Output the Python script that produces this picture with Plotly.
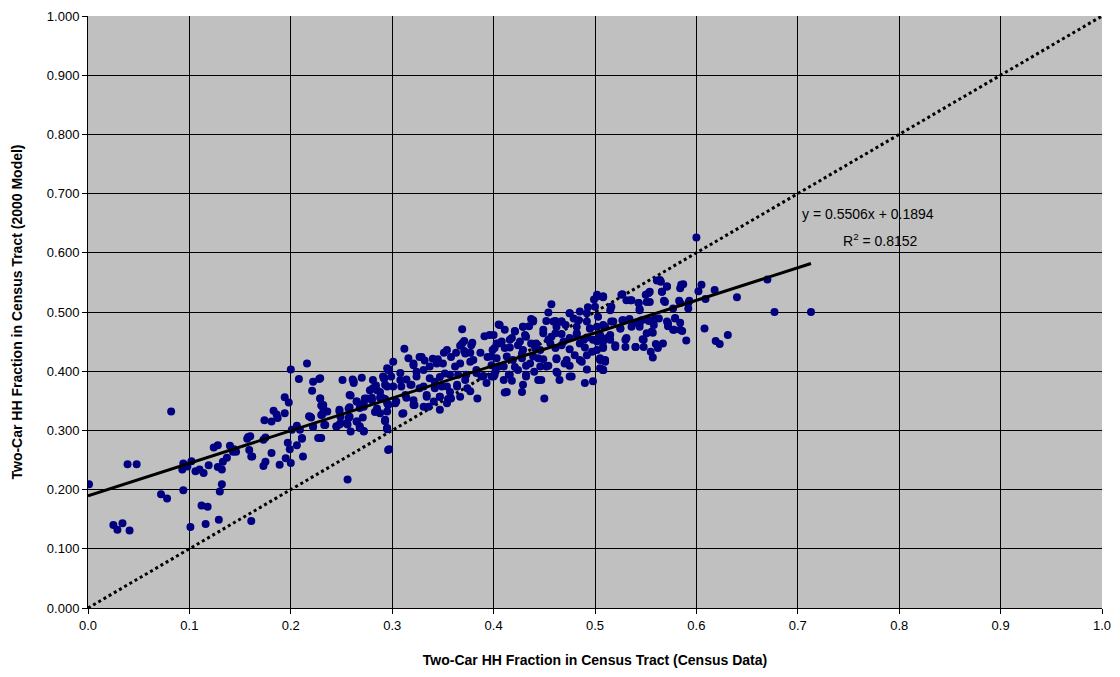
import plotly.graph_objects as go

census_x = [
0.001,0.082,0.039,0.048,0.025,0.029,0.034,0.041,0.072,0.078,0.094,0.101,0.094,0.093,0.102,0.098,0.106,0.110,0.114,0.119,
0.112,0.118,0.116,0.129,0.130,0.132,0.128,0.132,0.133,0.137,0.124,0.128,0.140,0.143,0.146,0.144,0.157,0.158,0.159,0.161,0.161,
0.216,0.200,0.208,0.222,0.228,0.221,0.194,0.198,0.229,0.230,0.232,0.236,0.183,0.186,0.187,0.194,0.174,0.181,0.218,0.220,0.231,
0.233,0.222,0.206,0.201,0.209,0.175,0.173,0.160,0.227,0.230,0.211,0.197,0.206,0.199,0.181,0.162,0.212,0.195,0.175,0.173,0.189,
0.200,0.256,0.251,0.261,0.262,0.270,0.259,0.265,0.248,0.258,0.257,0.249,0.245,0.248,0.256,0.259,0.265,0.268,0.272,0.271,0.268,
0.275,0.272,0.283,0.284,0.281,0.285,0.280,0.288,0.292,0.293,0.295,0.293,0.295,0.296,0.296,
0.369,0.405,0.391,0.396,0.371,0.379,0.312,0.354,0.363,0.367,0.371,0.377,0.387,0.399,0.405,0.351,0.329,0.316,0.301,0.332,0.340,
0.345,0.350,0.380,0.394,0.321,0.331,0.297,0.308,0.292,0.299,0.314,0.324,0.337,0.347,0.357,0.365,0.373,0.383,0.390,0.398,0.402,
0.295,0.309,0.319,0.331,0.342,0.354,0.364,0.374,0.393,0.290,0.303,0.314,0.322,0.334,0.347,0.355,0.367,0.377,0.384,0.336,0.347,
0.310,0.295,0.293,0.295,0.297,
0.457,0.502,0.499,0.508,0.454,0.475,0.485,0.493,0.437,0.439,0.452,0.461,0.467,0.479,0.492,0.503,0.406,0.411,0.421,0.429,0.435,
0.462,0.471,0.482,0.495,0.508,0.400,0.418,0.431,0.449,0.457,0.467,0.482,0.492,0.505,0.512,0.408,0.426,0.442,0.456,0.469,0.485,
0.502,0.401,0.416,0.429,0.441,0.461,0.475,0.490,0.508,0.398,0.413,0.428,0.439,0.449,0.462,0.472,0.485,0.492,0.505,0.405,0.421,
0.432,0.446,0.454,0.475,0.492,0.508,0.401,0.415,0.432,0.447,0.463,0.477,0.418,0.429,0.490,0.498,0.411,0.413,0.428,0.450,
0.600,0.670,0.640,0.677,0.713,0.618,0.605,0.602,0.609,0.608,0.631,0.619,0.623,0.587,0.584,0.571,0.565,0.561,0.566,0.554,0.550,
0.568,0.583,0.593,0.592,0.527,0.531,0.536,0.543,0.551,0.544,0.508,0.516,0.515,0.527,0.534,0.538,0.546,0.553,0.559,0.563,0.571,
0.572,0.579,0.584,0.578,0.586,0.590,0.509,0.518,0.525,0.544,0.551,0.557,0.515,0.520,0.508,0.531,0.530,0.540,0.547,0.548,0.560,
0.567,0.562,0.555,0.557,0.508,0.510,
0.321,0.327,0.324,0.337,0.344,0.342,0.349,0.352,0.358,0.362,0.367,0.372,0.369,0.378,0.377,0.383,0.388,0.372,0.364,0.357,0.347,
0.341,0.334,0.327,0.318,0.308,0.301,0.313,0.304,0.321,0.331,0.321,0.311,0.295,0.293,0.292,0.354,0.358,
0.403,0.411,0.416,0.424,0.432,0.437,0.446,0.454,0.461,0.467,0.475,0.482,0.489,0.495,0.403,0.410,0.419,0.428,0.436,0.444,0.452,
0.462,0.470,0.480,0.487,0.497,0.498,0.416,0.424,0.432,0.440,0.462,0.465,0.475,0.444,0.410,0.400,0.398,0.421,0.429,0.439,0.449,
0.459,0.467,0.475,0.484,0.492,
0.229,0.229,0.232,0.234,0.230,0.219,0.222,0.234,0.245,0.248,0.262,0.258,0.265,0.257,0.258,0.255,0.249,0.265,0.268,0.272,0.273,
0.272,0.280,0.278,0.283,0.288,0.285,0.288,0.293,0.295,0.281,0.291,0.296,0.229,0.211,
0.502,0.508,0.500,0.516,0.526,0.535,0.543,0.544,0.553,0.554,0.564,0.566,0.571,0.569,0.577,0.585,0.584,0.592,0.502,0.510,0.516,
0.525,0.528,0.536,0.544,0.553,0.558,0.572,0.579,0.584,0.577,0.505,0.508,0.515,0.520,0.530,0.540,0.548,0.556,0.502,0.505,0.510,
0.505,0.508,
]
model_y = [
0.209,0.332,0.243,0.243,0.140,0.132,0.143,0.131,0.192,0.185,0.199,0.137,0.244,0.234,0.248,0.239,0.231,0.234,0.228,0.241,
0.173,0.171,0.142,0.149,0.197,0.209,0.238,0.234,0.247,0.254,0.271,0.275,0.274,0.264,0.264,0.268,0.286,0.289,0.267,0.256,0.147,
0.413,0.403,0.387,0.382,0.387,0.367,0.356,0.347,0.354,0.342,0.337,0.332,0.333,0.327,0.321,0.329,0.317,0.315,0.324,0.322,0.327,
0.309,0.306,0.308,0.301,0.301,0.288,0.284,0.290,0.287,0.287,0.286,0.279,0.275,0.268,0.262,0.256,0.256,0.253,0.247,0.240,0.242,
0.245,0.217,0.385,0.386,0.380,0.389,0.359,0.349,0.335,0.339,0.321,0.323,0.307,0.310,0.310,0.298,0.315,0.307,0.299,0.322,0.338,
0.354,0.346,0.331,0.376,0.371,0.368,0.355,0.355,0.388,0.353,0.405,0.316,0.302,0.267,0.343,
0.471,0.479,0.459,0.461,0.451,0.448,0.438,0.436,0.431,0.443,0.434,0.431,0.431,0.436,0.447,0.431,0.424,0.422,0.416,0.418,0.421,
0.420,0.413,0.419,0.424,0.410,0.402,0.403,0.397,0.388,0.391,0.386,0.391,0.388,0.390,0.394,0.394,0.394,0.397,0.392,0.391,0.400,
0.374,0.374,0.377,0.374,0.371,0.374,0.377,0.371,0.380,0.355,0.346,0.355,0.343,0.357,0.357,0.353,0.357,0.366,0.354,0.340,0.335,
0.328,0.332,0.316,0.303,0.268,
0.513,0.529,0.521,0.525,0.499,0.498,0.501,0.508,0.488,0.484,0.485,0.485,0.484,0.489,0.484,0.492,0.478,0.470,0.468,0.475,0.476,
0.475,0.478,0.475,0.472,0.478,0.461,0.456,0.461,0.464,0.458,0.463,0.461,0.457,0.461,0.456,0.450,0.450,0.447,0.447,0.450,0.447,
0.450,0.439,0.440,0.436,0.439,0.439,0.437,0.440,0.439,0.425,0.425,0.422,0.425,0.420,0.420,0.419,0.419,0.427,0.419,0.408,0.407,
0.409,0.408,0.409,0.409,0.403,0.402,0.394,0.394,0.394,0.385,0.397,0.391,0.384,0.377,0.380,0.383,0.364,0.365,0.365,0.354,
0.626,0.555,0.525,0.500,0.500,0.537,0.546,0.535,0.522,0.472,0.461,0.451,0.446,0.547,0.540,0.543,0.551,0.553,0.534,0.534,0.529,
0.519,0.519,0.519,0.506,0.530,0.520,0.520,0.515,0.517,0.505,0.526,0.509,0.503,0.486,0.488,0.481,0.486,0.485,0.488,0.489,0.484,
0.476,0.490,0.482,0.470,0.468,0.452,0.475,0.484,0.472,0.475,0.464,0.465,0.461,0.444,0.450,0.456,0.441,0.441,0.454,0.441,0.446,
0.447,0.439,0.433,0.423,0.402,0.416,
0.413,0.424,0.399,0.408,0.413,0.382,0.374,0.396,0.424,0.408,0.413,0.430,0.447,0.444,0.416,0.402,0.391,0.385,0.374,0.365,0.357,
0.349,0.360,0.371,0.377,0.385,0.374,0.360,0.349,0.351,0.340,0.343,0.329,0.346,0.377,0.388,0.346,0.354,
0.447,0.439,0.453,0.444,0.458,0.447,0.436,0.453,0.464,0.444,0.456,0.464,0.453,0.472,0.422,0.408,0.419,0.430,0.413,0.422,0.408,
0.422,0.413,0.427,0.416,0.433,0.453,0.394,0.402,0.391,0.399,0.399,0.385,0.391,0.385,0.385,0.391,0.410,0.467,0.475,0.486,0.470,
0.484,0.484,0.498,0.486,0.498,
0.388,0.354,0.343,0.332,0.326,0.323,0.306,0.309,0.306,0.332,0.383,0.360,0.349,0.337,0.323,0.312,0.312,0.315,0.304,0.298,0.354,
0.340,0.351,0.368,0.371,0.365,0.337,0.329,0.318,0.304,0.385,0.391,0.402,0.287,0.287,
0.526,0.526,0.509,0.509,0.529,0.520,0.515,0.503,0.532,0.517,0.554,0.534,0.543,0.517,0.506,0.546,0.515,0.515,0.475,0.475,0.484,
0.472,0.486,0.475,0.481,0.486,0.478,0.481,0.489,0.470,0.470,0.458,0.441,0.453,0.441,0.453,0.441,0.453,0.467,0.436,0.422,0.419,
0.405,0.402,
]

trend_slope = 0.5506
trend_intercept = 0.1894
trend_x = [0.0, max(census_x)]
trend_y = [trend_slope * v + trend_intercept for v in trend_x]
ref_x = [0.0, 1.0]
ref_y = [0.0, 1.0]

x_ticks = [0.0, 0.1, 0.2, 0.3, 0.4, 0.5, 0.6, 0.7, 0.8, 0.9, 1.0]
y_ticks = [0.0, 0.1, 0.2, 0.3, 0.4, 0.5, 0.6, 0.7, 0.8, 0.9, 1.0]

fig = go.Figure()
fig.add_trace(go.Scatter(x=ref_x, y=ref_y, mode="lines",
                         line=dict(color="black", width=3, dash="dot"), showlegend=False, hoverinfo="skip"))
fig.add_trace(go.Scatter(x=census_x, y=model_y, mode="markers",
                         marker=dict(color="#000080", size=8, line=dict(width=0)), showlegend=False))
fig.add_trace(go.Scatter(x=trend_x, y=trend_y, mode="lines",
                         line=dict(color="black", width=3), showlegend=False, hoverinfo="skip"))

font = "Liberation Sans, Arial, sans-serif"
fig.add_annotation(x=0.769, y=0.666, xref="x", yref="y", text="y = 0.5506x + 0.1894",
                   showarrow=False, font=dict(family=font, size=14, color="black"), xanchor="center")
fig.add_annotation(x=0.782, y=0.622, xref="x", yref="y", text="R<sup>2</sup> = 0.8152",
                   showarrow=False, font=dict(family=font, size=14, color="black"), xanchor="center")

fig.update_layout(
    width=1112, height=669,
    margin=dict(l=80, r=18, t=8, b=69),
    plot_bgcolor="#C0C0C0", paper_bgcolor="white",
    font=dict(family=font, size=13, color="black"),
    xaxis=dict(range=[0, 1], tickvals=x_ticks, tickformat=".1f", showgrid=True, gridcolor="black",
               gridwidth=1, zeroline=False, showline=True, linecolor="black", linewidth=1,
               ticks="outside", ticklen=5, tickcolor="black", automargin=False,
               title=dict(text="<b>Two-Car HH Fraction in Census Tract (Census Data)</b>",
                          font=dict(size=14), standoff=23)),
    yaxis=dict(range=[0, 1], tickvals=y_ticks, tickformat=".3f", showgrid=True, gridcolor="black",
               gridwidth=1, zeroline=False, showline=True, linecolor="black", linewidth=1,
               ticks="outside", ticklen=5, tickcolor="black", automargin=False,
               title=dict(text="<b>Two-Car HH Fraction in Census Tract (2000 Model)</b>",
                          font=dict(size=14), standoff=20)),
)
fig.write_html("out.html")
